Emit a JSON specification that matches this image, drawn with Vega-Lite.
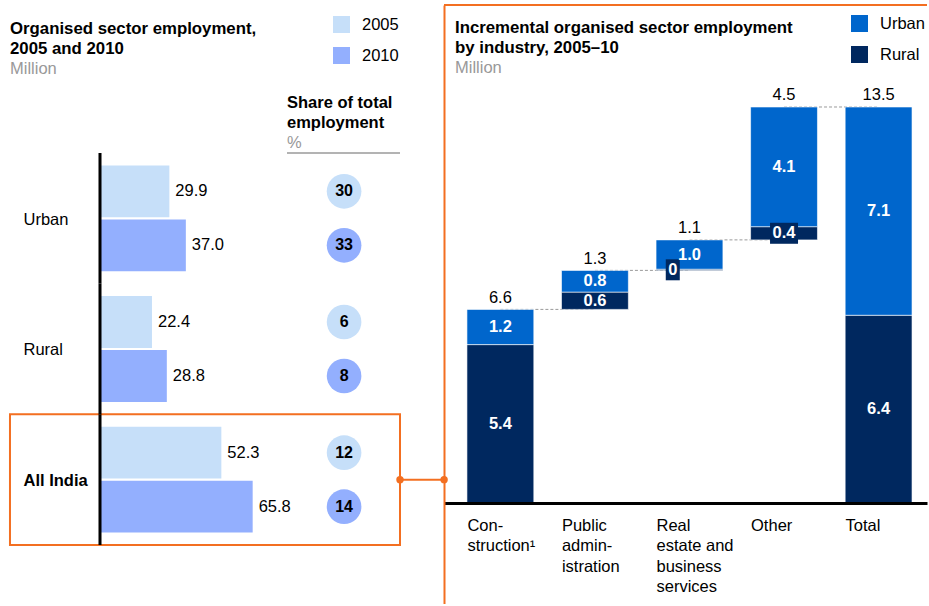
{
  "$schema": "https://vega.github.io/schema/vega-lite/v6.json",
  "padding": {"left": 8, "top": 4, "right": 0, "bottom": 0},
  "background": "white",
  "bounds": "flush",
  "spacing": 44,
  "config": {
    "view": {"stroke": null},
    "font": "Liberation Sans",
    "axis": {"labelFont": "Liberation Sans"},
    "legend": {"labelFont": "Liberation Sans"},
    "title": {"font": "Liberation Sans", "subtitleFont": "Liberation Sans"},
    "text": {"font": "Liberation Sans"}
  },
  "datasets": {
    "emp": [
      {"region": "Urban", "year": "2005", "value": 29.9, "share": 30},
      {"region": "Urban", "year": "2010", "value": 37.0, "share": 33},
      {"region": "Rural", "year": "2005", "value": 22.4, "share": 6},
      {"region": "Rural", "year": "2010", "value": 28.8, "share": 8},
      {"region": "All India", "year": "2005", "value": 52.3, "share": 12},
      {"region": "All India", "year": "2010", "value": 65.8, "share": 14}
    ],
    "wf": [
      {"industry": "Construction¹", "type": "Rural", "start": 0, "end": 5.4, "label": "5.4"},
      {"industry": "Construction¹", "type": "Urban", "start": 5.4, "end": 6.6, "label": "1.2"},
      {"industry": "Public administration", "type": "Rural", "start": 6.6, "end": 7.19, "label": "0.6"},
      {"industry": "Public administration", "type": "Urban", "start": 7.19, "end": 7.93, "label": "0.8"},
      {"industry": "Real estate and business services", "type": "Rural", "start": 7.93, "end": 7.97, "label": "0"},
      {"industry": "Real estate and business services", "type": "Urban", "start": 7.97, "end": 8.97, "label": "1.0"},
      {"industry": "Other", "type": "Rural", "start": 8.97, "end": 9.42, "label": "0.4"},
      {"industry": "Other", "type": "Urban", "start": 9.42, "end": 13.5, "label": "4.1"},
      {"industry": "Total", "type": "Rural", "start": 0, "end": 6.4, "label": "6.4"},
      {"industry": "Total", "type": "Urban", "start": 6.4, "end": 13.5, "label": "7.1"}
    ],
    "tops": [
      {"industry": "Construction¹", "total": 6.6, "label": "6.6"},
      {"industry": "Public administration", "total": 7.93, "label": "1.3"},
      {"industry": "Real estate and business services", "total": 8.97, "label": "1.1"},
      {"industry": "Other", "total": 13.5, "label": "4.5"},
      {"industry": "Total", "total": 13.5, "label": "13.5"}
    ],
    "steps": [
      {"from": "Construction¹", "to": "Public administration", "level": 6.6},
      {"from": "Public administration", "to": "Real estate and business services", "level": 7.93},
      {"from": "Real estate and business services", "to": "Other", "level": 8.97},
      {"from": "Other", "to": "Total", "level": 13.5}
    ]
  },
  "resolve": {"scale": {"color": "independent"}, "legend": {"color": "independent"}},
  "hconcat": [
    {
      "width": 300,
      "height": 540,
      "data": {"name": "emp"},
      "title": {
        "text": ["Organised sector employment,", "2005 and 2010"],
        "subtitle": "Million",
        "anchor": "start",
        "frame": "bounds",
        "offset": -72,
        "fontSize": 16.8,
        "fontWeight": "bold",
        "color": "#000000",
        "lineHeight": 20,
        "subtitleFontSize": 16.5,
        "subtitleColor": "#999999",
        "subtitlePadding": 3,
        "dx": 1
      },
      "layer": [
        {
          "transform": [{"filter": "datum.region == 'All India' && datum.year == '2005'"}],
          "mark": {"type": "rect", "fillOpacity": 0, "stroke": "#F36F21", "strokeWidth": 2},
          "encoding": {
            "x": {"datum": -38.8, "type": "quantitative", "scale": {"domain": [0, 129.3], "nice": false, "zero": false}, "axis": null},
            "x2": {"datum": 129.3},
            "y": {"field": "region", "type": "nominal", "scale": {"domain": ["Urban", "Rural", "All India"], "paddingInner": 0, "paddingOuter": 0.5663, "align": 1}, "title": null}
          }
        },
        {
          "transform": [{"filter": "datum.region == 'All India' && datum.year == '2005'"}],
          "mark": {"type": "rule", "color": "#F36F21", "strokeWidth": 2},
          "encoding": {
            "x": {"datum": 129.3, "type": "quantitative", "scale": {"domain": [0, 129.3], "nice": false, "zero": false}, "axis": null},
            "x2": {"datum": 148.3},
            "y": {"field": "region", "type": "nominal", "scale": {"domain": ["Urban", "Rural", "All India"], "paddingInner": 0, "paddingOuter": 0.5663, "align": 1}, "title": null}
          }
        },
        {
          "transform": [{"filter": "datum.region == 'All India' && datum.year == '2005'"}],
          "mark": {"type": "point", "filled": true, "color": "#F36F21", "size": 55, "opacity": 1, "strokeWidth": 0},
          "encoding": {
            "x": {"datum": 129.3, "type": "quantitative", "scale": {"domain": [0, 129.3], "nice": false, "zero": false}, "axis": null},
            "y": {"field": "region", "type": "nominal", "scale": {"domain": ["Urban", "Rural", "All India"], "paddingInner": 0, "paddingOuter": 0.5663, "align": 1}, "title": null}
          }
        },
        {
          "transform": [{"filter": "datum.region == 'All India' && datum.year == '2005'"}],
          "mark": {"type": "point", "filled": true, "color": "#F36F21", "size": 55, "opacity": 1, "strokeWidth": 0},
          "encoding": {
            "x": {"datum": 148.3, "type": "quantitative", "scale": {"domain": [0, 129.3], "nice": false, "zero": false}, "axis": null},
            "y": {"field": "region", "type": "nominal", "scale": {"domain": ["Urban", "Rural", "All India"], "paddingInner": 0, "paddingOuter": 0.5663, "align": 1}, "title": null}
          }
        },
        {
          "mark": {"type": "bar", "strokeWidth": 0},
          "encoding": {
            "x": {"field": "value", "type": "quantitative", "scale": {"domain": [0, 129.3], "nice": false, "zero": false}, "axis": null},
            "y": {
              "field": "region", "type": "nominal",
              "scale": {"domain": ["Urban", "Rural", "All India"], "paddingInner": 0, "paddingOuter": 0.5663, "align": 1},
              "title": null,
              "axis": {
                "domain": false, "ticks": false, "tickSize": 0, "grid": false,
                "labelAlign": "left", "labelPadding": 77, "labelBaseline": "middle", "labelOffset": 1.5,
                "labelFontSize": 16.5, "labelColor": "#000000", "title": null,
                "labelFontWeight": {"condition": {"test": "datum.label == 'All India'", "value": "bold"}, "value": "normal"}
              }
            },
            "yOffset": {"field": "year", "type": "nominal", "scale": {"domain": ["2005", "2010"], "paddingInner": 0.04, "paddingOuter": 0.23}},
            "color": {
              "field": "year", "type": "nominal",
              "scale": {"domain": ["2005", "2010"], "range": ["#C6DFF9", "#93AFFE"]},
              "legend": {"orient": "none", "legendX": 233, "legendY": 11, "title": null, "symbolType": "square", "symbolSize": 289, "symbolStrokeWidth": 0, "rowPadding": 14, "labelOffset": 12, "labelFontSize": 16.5, "labelColor": "#000000", "padding": 0}
            }
          }
        },
        {
          "transform": [{"filter": "datum.year == '2005'"}],
          "mark": {"type": "rect", "color": "#000000"},
          "encoding": {
            "x": {"datum": -0.65, "type": "quantitative", "scale": {"domain": [0, 129.3], "nice": false, "zero": false}, "axis": null},
            "x2": {"datum": 0.65},
            "y": {"field": "region", "type": "nominal", "scale": {"domain": ["Urban", "Rural", "All India"], "paddingInner": 0, "paddingOuter": 0.5663, "align": 1}, "title": null}
          }
        },
        {
          "mark": {"type": "text", "align": "left", "baseline": "middle", "dx": 6, "fontSize": 16.5, "color": "#000000"},
          "encoding": {
            "x": {"field": "value", "type": "quantitative", "scale": {"domain": [0, 129.3], "nice": false, "zero": false}, "axis": null},
            "y": {"field": "region", "type": "nominal", "scale": {"domain": ["Urban", "Rural", "All India"], "paddingInner": 0, "paddingOuter": 0.5663, "align": 1}, "title": null},
            "yOffset": {"field": "year", "type": "nominal", "scale": {"domain": ["2005", "2010"], "paddingInner": 0.04, "paddingOuter": 0.23}},
            "text": {"field": "value", "type": "quantitative", "format": ".1f"}
          }
        },
        {
          "mark": {"type": "point", "filled": true, "size": 1200, "opacity": 1, "strokeWidth": 0},
          "encoding": {
            "x": {"datum": 105.2, "type": "quantitative", "scale": {"domain": [0, 129.3], "nice": false, "zero": false}, "axis": null},
            "y": {"field": "region", "type": "nominal", "scale": {"domain": ["Urban", "Rural", "All India"], "paddingInner": 0, "paddingOuter": 0.5663, "align": 1}, "title": null},
            "yOffset": {"field": "year", "type": "nominal", "scale": {"domain": ["2005", "2010"], "paddingInner": 0.04, "paddingOuter": 0.23}},
            "color": {
              "field": "year", "type": "nominal",
              "scale": {"domain": ["2005", "2010"], "range": ["#C6DFF9", "#93AFFE"]},
              "legend": {"orient": "none", "legendX": 233, "legendY": 11, "title": null, "symbolType": "square", "symbolSize": 289, "symbolStrokeWidth": 0, "rowPadding": 14, "labelOffset": 12, "labelFontSize": 16.5, "labelColor": "#000000", "padding": 0}
            }
          }
        },
        {
          "mark": {"type": "text", "align": "center", "baseline": "middle", "fontSize": 16, "fontWeight": "bold", "color": "#000000"},
          "encoding": {
            "x": {"datum": 105.2, "type": "quantitative", "scale": {"domain": [0, 129.3], "nice": false, "zero": false}, "axis": null},
            "y": {"field": "region", "type": "nominal", "scale": {"domain": ["Urban", "Rural", "All India"], "paddingInner": 0, "paddingOuter": 0.5663, "align": 1}, "title": null},
            "yOffset": {"field": "year", "type": "nominal", "scale": {"domain": ["2005", "2010"], "paddingInner": 0.04, "paddingOuter": 0.23}},
            "text": {"field": "share", "type": "quantitative"}
          }
        },
        {
          "transform": [{"filter": "datum.region == 'Urban' && datum.year == '2005'"}],
          "mark": {"type": "text", "text": ["Share of total", "employment"], "align": "left", "baseline": "alphabetic", "dy": -44.7, "lineHeight": 19.5, "fontSize": 16.5, "fontWeight": "bold", "color": "#000000"},
          "encoding": {
            "x": {"datum": 80.6, "type": "quantitative", "scale": {"domain": [0, 129.3], "nice": false, "zero": false}, "axis": null},
            "y": {"field": "region", "type": "nominal", "bandPosition": 0, "scale": {"domain": ["Urban", "Rural", "All India"], "paddingInner": 0, "paddingOuter": 0.5663, "align": 1}, "title": null}
          }
        },
        {
          "transform": [{"filter": "datum.region == 'Urban' && datum.year == '2005'"}],
          "mark": {"type": "text", "text": "%", "align": "left", "baseline": "alphabetic", "dy": -4.7, "fontSize": 16.5, "color": "#999999"},
          "encoding": {
            "x": {"datum": 80.6, "type": "quantitative", "scale": {"domain": [0, 129.3], "nice": false, "zero": false}, "axis": null},
            "y": {"field": "region", "type": "nominal", "bandPosition": 0, "scale": {"domain": ["Urban", "Rural", "All India"], "paddingInner": 0, "paddingOuter": 0.5663, "align": 1}, "title": null}
          }
        },
        {
          "transform": [{"filter": "datum.region == 'Urban' && datum.year == '2005'"}],
          "mark": {"type": "rule", "color": "#B3B3B3", "strokeWidth": 2},
          "encoding": {
            "x": {"datum": 80.6, "type": "quantitative", "scale": {"domain": [0, 129.3], "nice": false, "zero": false}, "axis": null},
            "x2": {"datum": 129.3},
            "y": {"field": "region", "type": "nominal", "bandPosition": 0, "scale": {"domain": ["Urban", "Rural", "All India"], "paddingInner": 0, "paddingOuter": 0.5663, "align": 1}, "title": null}
          }
        }
      ]
    },
    {
      "width": 483,
      "height": 599,
      "title": {
        "text": ["Incremental organised sector employment", "by industry, 2005–10"],
        "subtitle": "Million",
        "anchor": "start",
        "frame": "group",
        "offset": -72,
        "dx": 11,
        "fontSize": 16.8,
        "fontWeight": "bold",
        "color": "#000000",
        "lineHeight": 20,
        "subtitleFontSize": 16.5,
        "subtitleColor": "#999999",
        "subtitlePadding": 3
      },
      "layer": [
        {
          "data": {"name": "tops"},
          "transform": [{"filter": "datum.industry == 'Total'"}],
          "mark": {"type": "rule", "color": "#F36F21", "strokeWidth": 2},
          "encoding": {
            "y": {"datum": 16.977, "type": "quantitative", "scale": {"domain": [-3.443, 16.977], "nice": false, "zero": false}, "title": null}
          }
        },
        {
          "data": {"name": "steps"},
          "mark": {"type": "rule", "color": "#9A9A9A", "strokeWidth": 1, "strokeDash": [3, 2]},
          "encoding": {
            "x": {"field": "from", "type": "nominal", "scale": {"domain": ["Construction¹", "Public administration", "Real estate and business services", "Other", "Total"], "paddingInner": 0.2929, "paddingOuter": 0.2006, "align": 0.605}, "title": null},
            "x2": {"field": "to"},
            "y": {"field": "level", "type": "quantitative", "scale": {"domain": [-3.443, 16.977], "nice": false, "zero": false}, "title": null}
          }
        },
        {
          "data": {"name": "wf"},
          "mark": {"type": "bar", "stroke": "#ffffff", "strokeWidth": 0.6},
          "encoding": {
            "x": {
              "field": "industry", "type": "nominal",
              "scale": {"domain": ["Construction¹", "Public administration", "Real estate and business services", "Other", "Total"], "paddingInner": 0.2929, "paddingOuter": 0.2006, "align": 0.605},
              "title": null,
              "axis": {
                "orient": "bottom", "offset": -101, "domainColor": "#000000", "domainWidth": 3,
                "ticks": false, "tickSize": 0, "grid": false, "labelAngle": 0, "labelOffset": -33,
                "labelAlign": "left", "labelBaseline": "top", "labelPadding": 14,
                "labelFontSize": 16.5, "labelColor": "#000000", "labelLineHeight": 20.5,
                "labelLimit": 0, "labelOverlap": false, "labelBound": false, "title": null, "zindex": 1,
                "labelExpr": "datum.value == 'Construction¹' ? ['Con-', 'struction¹'] : datum.value == 'Public administration' ? ['Public', 'admin-', 'istration'] : datum.value == 'Real estate and business services' ? ['Real', 'estate and', 'business', 'services'] : datum.label"
              }
            },
            "y": {
              "field": "start", "type": "quantitative",
              "scale": {"domain": [-3.443, 16.977], "nice": false, "zero": false},
              "title": null,
              "axis": {"orient": "left", "domain": true, "domainColor": "#F36F21", "domainWidth": 2, "labels": false, "ticks": false, "grid": false, "title": null, "zindex": 1}
            },
            "y2": {"field": "end"},
            "color": {
              "field": "type", "type": "nominal",
              "scale": {"domain": ["Urban", "Rural"], "range": ["#0066CC", "#00285F"]},
              "legend": {"orient": "none", "legendX": 407, "legendY": 10, "title": null, "symbolType": "square", "symbolSize": 289, "symbolStrokeWidth": 0, "rowPadding": 14, "labelOffset": 12, "labelFontSize": 16.5, "labelColor": "#000000", "padding": 0}
            }
          }
        },
        {
          "data": {"name": "wf"},
          "transform": [{"filter": "datum.label == '0'"}, {"fold": ["start", "end"], "as": ["k", "v"]}],
          "mark": {"type": "point", "shape": "M-0.667,-1L0.667,-1L0.667,1L-0.667,1Z", "size": 441, "filled": true, "opacity": 1, "strokeWidth": 0, "color": "#00285F"},
          "encoding": {
            "x": {"field": "industry", "type": "nominal", "bandPosition": 0.25, "scale": {"domain": ["Construction¹", "Public administration", "Real estate and business services", "Other", "Total"], "paddingInner": 0.2929, "paddingOuter": 0.2006, "align": 0.605}, "title": null},
            "y": {"aggregate": "mean", "field": "v", "type": "quantitative", "scale": {"domain": [-3.443, 16.977], "nice": false, "zero": false}, "title": null}
          }
        },
        {
          "data": {"name": "wf"},
          "transform": [{"filter": "datum.label == '0.4'"}, {"fold": ["start", "end"], "as": ["k", "v"]}],
          "mark": {"type": "point", "shape": "M-1,-0.75L1,-0.75L1,0.75L-1,0.75Z", "size": 784, "filled": true, "opacity": 1, "strokeWidth": 0, "color": "#00285F"},
          "encoding": {
            "x": {"field": "industry", "type": "nominal", "scale": {"domain": ["Construction¹", "Public administration", "Real estate and business services", "Other", "Total"], "paddingInner": 0.2929, "paddingOuter": 0.2006, "align": 0.605}, "title": null},
            "y": {"aggregate": "mean", "field": "v", "type": "quantitative", "scale": {"domain": [-3.443, 16.977], "nice": false, "zero": false}, "title": null}
          }
        },
        {
          "data": {"name": "wf"},
          "transform": [{"filter": "datum.label != '0'"}, {"fold": ["start", "end"], "as": ["k", "v"]}],
          "mark": {"type": "text", "color": "#ffffff", "fontWeight": "bold", "fontSize": 16.5, "baseline": "middle", "align": "center"},
          "encoding": {
            "x": {"field": "industry", "type": "nominal", "scale": {"domain": ["Construction¹", "Public administration", "Real estate and business services", "Other", "Total"], "paddingInner": 0.2929, "paddingOuter": 0.2006, "align": 0.605}, "title": null},
            "y": {"aggregate": "mean", "field": "v", "type": "quantitative", "scale": {"domain": [-3.443, 16.977], "nice": false, "zero": false}, "title": null},
            "detail": {"field": "type", "type": "nominal"},
            "text": {"field": "label", "type": "nominal"}
          }
        },
        {
          "data": {"name": "wf"},
          "transform": [{"filter": "datum.label == '0'"}, {"fold": ["start", "end"], "as": ["k", "v"]}],
          "mark": {"type": "text", "color": "#ffffff", "fontWeight": "bold", "fontSize": 16.5, "baseline": "middle", "align": "center"},
          "encoding": {
            "x": {"field": "industry", "type": "nominal", "bandPosition": 0.25, "scale": {"domain": ["Construction¹", "Public administration", "Real estate and business services", "Other", "Total"], "paddingInner": 0.2929, "paddingOuter": 0.2006, "align": 0.605}, "title": null},
            "y": {"aggregate": "mean", "field": "v", "type": "quantitative", "scale": {"domain": [-3.443, 16.977], "nice": false, "zero": false}, "title": null},
            "detail": {"field": "type", "type": "nominal"},
            "text": {"field": "label", "type": "nominal"}
          }
        },
        {
          "data": {"name": "tops"},
          "mark": {"type": "text", "color": "#000000", "fontSize": 16.5, "baseline": "alphabetic", "align": "center", "dy": -6.5},
          "encoding": {
            "x": {"field": "industry", "type": "nominal", "scale": {"domain": ["Construction¹", "Public administration", "Real estate and business services", "Other", "Total"], "paddingInner": 0.2929, "paddingOuter": 0.2006, "align": 0.605}, "title": null},
            "y": {"field": "total", "type": "quantitative", "scale": {"domain": [-3.443, 16.977], "nice": false, "zero": false}, "title": null},
            "text": {"field": "label", "type": "nominal"}
          }
        }
      ]
    }
  ]
}
